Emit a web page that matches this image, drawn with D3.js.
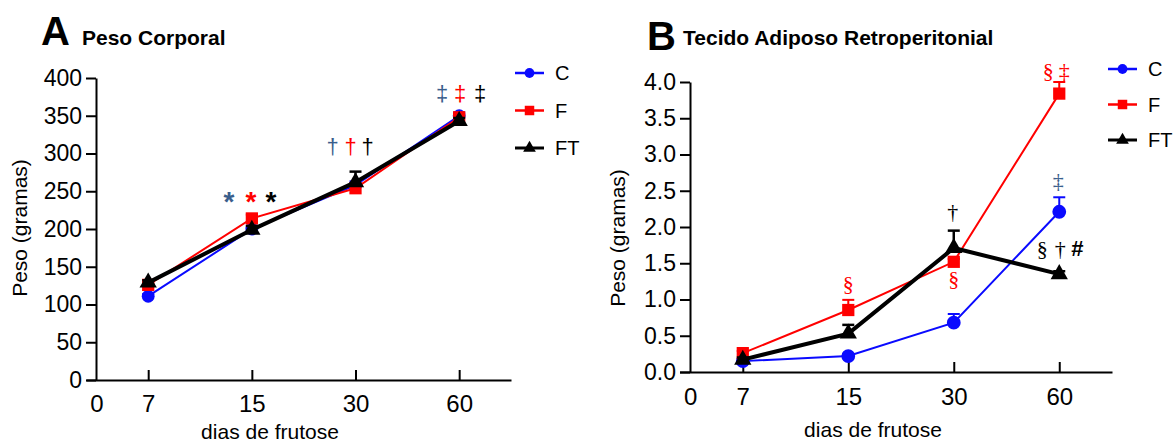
<!DOCTYPE html>
<meta charset="utf-8">
<style type="text/css">
  body { margin: 0; background: #fff; }
  text { font-family: "Liberation Sans", Arial, sans-serif; fill: #000; }
  .axis path, .axis line { stroke: #000; stroke-width: 2px; }
  .axis text { font-size: 23px; }
</style>
<body>
<div class="chart"></div>
</body>
<script src="https://cdn.jsdelivr.net/npm/d3@7"></script>
<script>

// dias de frutose
var days = [7, 15, 30, 60];
var xLabels = ["0", "7", "15", "30", "60"];
var groups = ["C", "F", "FT"];

// A - peso corporal (g)
var pesoC = [111, 200, 258, 350];
var pesoF = [126, 214, 254, 348];
var pesoFT = [129, 199, 262, 343];
var pesoErrC = [3, 4, 5, 4];
var pesoErrF = [3, 5, 5, 4];
var pesoErrFT = [3, 5, 14, 4];
var pesoTicks = [0, 50, 100, 150, 200, 250, 300, 350, 400];

// B - tecido adiposo retroperitonial (g)
var retroC = [0.15, 0.22, 0.68, 2.21];
var retroF = [0.26, 0.855, 1.52, 3.84];
var retroFT = [0.17, 0.53, 1.71, 1.35];
var retroErrC = [0.02, 0.03, 0.12, 0.2];
var retroErrF = [0.03, 0.14, 0.04, 0.16];
var retroErrFT = [0.03, 0.12, 0.24, 0.04];
var retroTicks = [0, 0.5, 1, 1.5, 2, 2.5, 3, 3.5, 4];

// marcas de significancia: [dia, valor, desvio px, texto, grupo]
var marksA = [
  [15, 224, -23, "*", "C"], [15, 224, -1, "*", "F"], [15, 224, 19, "*", "FT"],
  [30, 300, -23, "\u2020", "C"], [30, 300, -5, "\u2020", "F"], [30, 300, 12, "\u2020", "FT"],
  [60, 370, -17, "\u2021", "C"], [60, 370, 1, "\u2021", "F"], [60, 370, 21, "\u2021", "FT"]
];
var marksB = [
  [15, 1.12, 0, "\u00a7", "F"],
  [30, 1.19, 0, "\u00a7", "F"],
  [30, 2.11, -1, "\u2020", "FT"],
  [60, 4.06, -11, "\u00a7", "F"], [60, 4.06, 5, "\u2021", "F"],
  [60, 2.54, -1, "\u2021", "C"],
  [60, 1.60, -17, "\u00a7", "FT"], [60, 1.60, 1, "\u2020", "FT"], [60, 1.60, 18, "#", "FT"]
];

var lineColor = {C: "#0a0aff", F: "#ff0000", FT: "#000000"};
var markColor = {C: "#3a5e8c", F: "#ff0000", FT: "#000000"};
var lineWidth = {C: 2, F: 2, FT: 4};

var width = 1175, height = 444;

var svg = d3.select(".chart").append("svg")
    .attr("width", width)
    .attr("height", height);

// posicao de cada rotulo no eixo x (0 fica meio passo antes de 7)
function slot(d) { return d === 0 ? 0 : days.indexOf(d) + 0.5; }

function buildPanel(opt) {
  var x = d3.scaleLinear().domain([-0.1, 4]).range(opt.xRange);
  var y = d3.scaleLinear().domain(opt.yDomain).range(opt.yRange);
  var g = svg.append("g");

  // eixo x, ticks para dentro
  var xAxis = g.append("g")
      .attr("class", "axis")
      .attr("transform", "translate(0," + opt.yRange[0] + ")")
      .call(d3.axisBottom(x)
        .tickValues(xLabels.map(function(l) { return slot(+l); }))
        .tickFormat(function(d, i) { return xLabels[i]; })
        .tickSize(-10).tickSizeOuter(0).tickPadding(opt.xPad));
  xAxis.selectAll(".tick").filter(function(d) { return d === 0; })
      .select("line").remove();
  xAxis.selectAll("text").style("font-size", "24px");

  // eixo y
  g.append("g")
      .attr("class", "axis")
      .attr("transform", "translate(" + opt.yAxisX + ",0)")
      .call(d3.axisLeft(y)
        .tickValues(opt.yTicks)
        .tickFormat(opt.yFormat)
        .tickSize(10).tickSizeOuter(0).tickPadding(4));

  g.append("text")
      .attr("x", opt.xTitle[0]).attr("y", opt.xTitle[1])
      .attr("text-anchor", "middle")
      .style("font-size", "21px")
      .text("dias de frutose");

  g.append("text")
      .attr("transform", "translate(" + opt.yTitle[0] + "," + opt.yTitle[1] + ") rotate(-90)")
      .attr("text-anchor", "middle")
      .attr("dy", "0.35em")
      .style("font-size", "21px")
      .text("Peso (gramas)");

  g.append("text")
      .attr("x", opt.letter[0]).attr("y", opt.letter[1])
      .style("font-size", "40px").style("font-weight", "bold")
      .text(opt.letterText);
  g.append("text")
      .attr("x", opt.title[0]).attr("y", opt.title[1])
      .style("font-size", "21px").style("font-weight", "bold")
      .text(opt.titleText);

  var line = d3.line()
      .x(function(d) { return x(slot(d.day)); })
      .y(function(d) { return y(d.v); });

  groups.forEach(function(grp) {
    var pts = days.map(function(d, i) {
      return {day: d, v: opt.series[grp][i], e: opt.errors[grp][i]};
    });
    var sg = g.append("g");

    // barras de erro (so para cima)
    var eb = sg.selectAll(".err").data(pts).enter().append("g")
        .attr("stroke", lineColor[grp])
        .attr("stroke-width", grp === "FT" ? 2.5 : 2);
    eb.append("line")
        .attr("x1", function(d) { return x(slot(d.day)); })
        .attr("x2", function(d) { return x(slot(d.day)); })
        .attr("y1", function(d) { return y(d.v); })
        .attr("y2", function(d) { return y(d.v + d.e); });
    eb.append("line")
        .attr("x1", function(d) { return x(slot(d.day)) - 6; })
        .attr("x2", function(d) { return x(slot(d.day)) + 6; })
        .attr("y1", function(d) { return y(d.v + d.e); })
        .attr("y2", function(d) { return y(d.v + d.e); });

    sg.append("path")
        .datum(pts)
        .attr("fill", "none")
        .attr("stroke", lineColor[grp])
        .attr("stroke-width", lineWidth[grp])
        .attr("d", line);

    sg.selectAll(".pt").data(pts).enter().append("path")
        .attr("transform", function(d) {
          return "translate(" + x(slot(d.day)) + "," + y(d.v) + ")";
        })
        .attr("fill", lineColor[grp])
        .attr("d", d3.symbol().type(opt.symbols[grp]).size(opt.symbolSize[grp]));
  });

  // marcas de significancia
  g.selectAll(".mark").data(opt.marks).enter().append("text")
      .attr("x", function(d) { return x(slot(d[0])) + d[2]; })
      .attr("y", function(d) { return y(d[1]); })
      .attr("text-anchor", "middle")
      .style("fill", function(d) { return markColor[d[4]]; })
      .style("font-family", function(d) { return opt.markFont(d[3]); })
      .style("font-weight", function(d) { return d[3] === "#" || d[3] === "*" ? "bold" : "normal"; })
      .style("font-size", function(d) { return d[3] === "*" ? "28px" : opt.markSize; })
      .text(function(d) { return d[3]; });

  // legenda
  var lg = g.selectAll(".leg").data(groups).enter().append("g")
      .attr("transform", function(d, i) {
        return "translate(" + opt.legend[0] + "," + (opt.legend[1] + i * opt.legend[2]) + ")";
      });
  lg.append("line")
      .attr("x1", 0).attr("x2", 29)
      .attr("stroke", function(d) { return lineColor[d]; })
      .attr("stroke-width", function(d) { return d === "FT" ? 3 : 2.5; });
  lg.append("path")
      .attr("transform", "translate(14.5,0)")
      .attr("fill", function(d) { return lineColor[d]; })
      .attr("d", function(d) {
        return d3.symbol().type(opt.symbols[d]).size(d === "C" ? 75 : d === "F" ? 90 : 70)();
      });
  lg.append("text")
      .attr("x", 40).attr("dy", "0.36em")
      .style("font-size", "20px")
      .text(function(d) { return d; });
}

var symbols = {C: d3.symbolCircle, F: d3.symbolSquare, FT: d3.symbolTriangle};

buildPanel({
  xRange: [86, 511], yDomain: [0, 400], yRange: [380, 78], yAxisX: 96,
  yTicks: pesoTicks, yFormat: d3.format("d"), xPad: 15,
  xTitle: [270, 439], yTitle: [20, 228],
  letter: [41, 45], letterText: "A", title: [82, 45], titleText: "Peso Corporal",
  series: {C: pesoC, F: pesoF, FT: pesoFT},
  errors: {C: pesoErrC, F: pesoErrF, FT: pesoErrFT},
  symbols: symbols, symbolSize: {C: 130, F: 150, FT: 130},
  marks: marksA, markSize: "22px",
  markFont: function() { return "'Liberation Sans', Arial, sans-serif"; },
  legend: [515, 73, 37.5]
});

buildPanel({
  xRange: [679.5, 1112], yDomain: [0, 4], yRange: [372, 82], yAxisX: 690,
  yTicks: retroTicks, yFormat: d3.format(".1f"), xPad: 16,
  xTitle: [873, 437], yTitle: [618, 238],
  letter: [647, 50], letterText: "B", title: [683, 45], titleText: "Tecido Adiposo Retroperitonial",
  series: {C: retroC, F: retroF, FT: retroFT},
  errors: {C: retroErrC, F: retroErrF, FT: retroErrFT},
  symbols: symbols, symbolSize: {C: 150, F: 150, FT: 130},
  marks: marksB, markSize: "22px",
  markFont: function(t) {
    return t === "#" ? "'Liberation Sans', Arial, sans-serif" : "'Liberation Serif', 'Times New Roman', serif";
  },
  legend: [1108, 69, 35.5]
});

</script>
